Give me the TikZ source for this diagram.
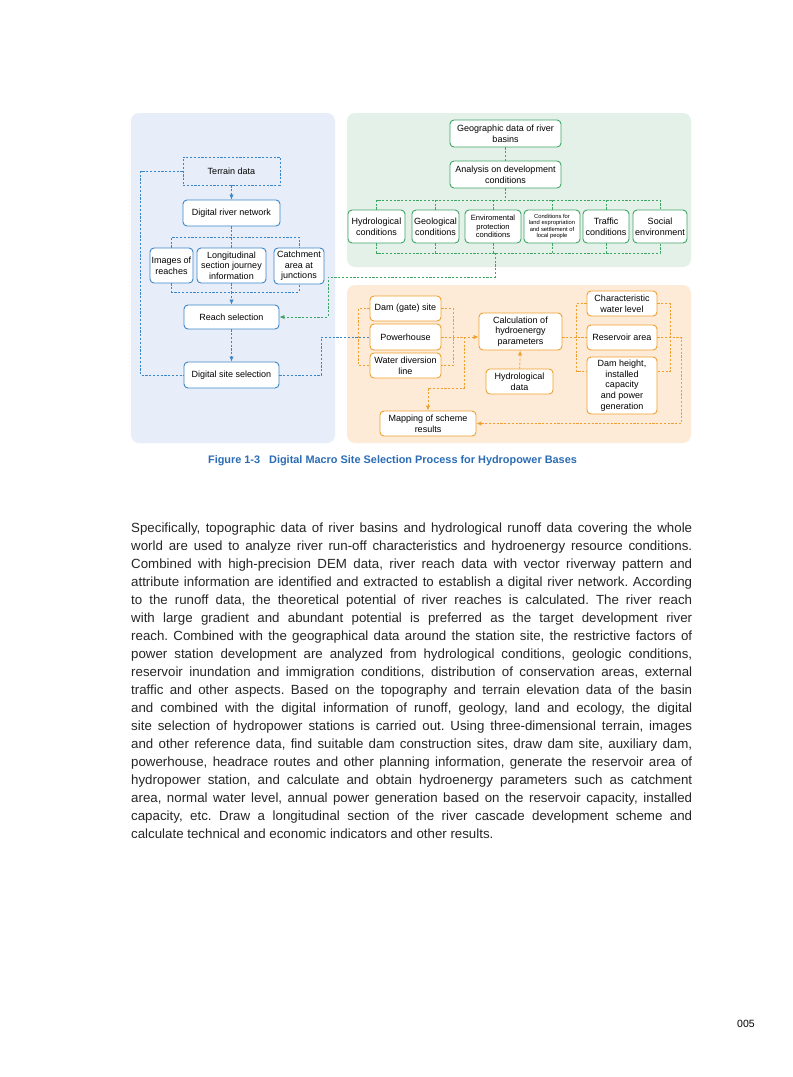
\documentclass[tikz,border=0pt]{standalone}
\usepackage{fontspec}
\setmainfont{Liberation Sans}
\usepackage{xcolor}
\usetikzlibrary{arrows.meta}

\definecolor{bluebg}{HTML}{E7EEF9}
\definecolor{greenbg}{HTML}{E4F1E9}
\definecolor{orangebg}{HTML}{FDEBD7}
\definecolor{blueln}{HTML}{3A86C8}
\definecolor{greenln}{HTML}{3FA564}
\definecolor{orangeln}{HTML}{F0A030}
\definecolor{captblue}{HTML}{2B6CB5}

\begin{document}
\begin{tikzpicture}[
  x=1pt, y=-1pt,
  font=\fontsize{9}{10.6}\selectfont,
  box/.style  = {fill=white, rounded corners=4pt, line width=0.9pt,
                 align=center, inner sep=1pt},
  bbox/.style = {box, draw=blueln},
  gbox/.style = {box, draw=greenln},
  obox/.style = {box, draw=orangeln},
  dsh/.style  = {line width=0.75pt, dash pattern=on 2.2pt off 1.6pt},
  bdas/.style = {dsh, blueln},
  gdas/.style = {dsh, greenln},
  odas/.style = {dsh, orangeln},
  arr/.style  = {-{Latex[length=5pt,width=4.4pt]}}
]
\useasboundingbox (0,0) rectangle (793,1077);
\fill[white] (0,0) rectangle (793,1077);

%% -- Panels --
\fill[bluebg, rounded corners=8pt]   (131,113) rectangle (335,443);
\fill[greenbg, rounded corners=8pt]  (347,113) rectangle (691,267);
\fill[orangebg, rounded corners=8pt] (347,285) rectangle (691,443);

%% -- Digital river network (blue) --
\node[draw=blueln, dsh, text=black, minimum width=97pt, minimum height=28pt] (terr) at (231.5,171) {Terrain data};
\node[bbox, minimum width=97pt, minimum height=26pt] (drn)  at (231.5,213) {Digital river network};
\node[bbox, minimum width=43pt, minimum height=35pt] (img)  at (171.5,265.5) {Images of\\reaches};
\node[bbox, minimum width=69pt, minimum height=35pt] (lsj)  at (231.5,265.5) {Longitudinal\\section journey\\information};
\node[bbox, minimum width=50pt, minimum height=36pt] (catch) at (299,266) {Catchment\\area at\\junctions};
\node[bbox, minimum width=95pt, minimum height=24pt] (reach) at (231.5,317) {Reach selection};
\node[bbox, minimum width=95pt, minimum height=26pt] (site)  at (231.5,375) {Digital site selection};
\coordinate (bt) at (231.5,237);
\coordinate (bb) at (231.5,292);

\draw[bdas,arr] (terr) -- (drn);
\draw[bdas] (drn) -- (bt);
\draw[bdas] (img.north) -- (img.north |- bt) -- (catch.north |- bt) -- (catch.north);
\draw[bdas] (lsj.north) -- (bt);
\draw[bdas] (img.south) -- (img.south |- bb) -- (catch.south |- bb) -- (catch.south);
\draw[bdas] (lsj.south) -- (bb);
\draw[bdas,arr] (bb) -- (reach);
\draw[bdas,arr] (reach) -- (site);
\draw[bdas] (terr.west) -- ++(-42,0) |- (site.west);

%% -- Development conditions (green) --
\node[gbox, minimum width=111pt, minimum height=27pt] (geo) at (505.5,133.5) {Geographic data of river\\basins};
\node[gbox, minimum width=111pt, minimum height=27pt] (ana) at (505.5,174.5) {Analysis on development\\conditions};
\node[gbox, minimum width=57pt, minimum height=33pt] (hyc)  at (376.5,226.5) {Hydrological\\conditions};
\node[gbox, minimum width=47pt, minimum height=33pt] (gec)  at (435.5,226.5) {Geological\\conditions};
\node[gbox, minimum width=56pt, minimum height=33pt, font=\fontsize{7.6}{8.6}\selectfont] (env) at (493,226.5) {Enviromental\\protection\\conditions};
\node[gbox, minimum width=56pt, minimum height=33pt, font=\fontsize{5.8}{6.4}\selectfont] (land) at (552,226.5) {Conditions for\\land expropriation\\and settlement of\\local people};
\node[gbox, minimum width=46pt, minimum height=33pt] (trc)  at (606,226.5) {Traffic\\conditions};
\node[gbox, minimum width=54pt, minimum height=33pt] (soc)  at (660,226.5) {Social\\environment};
\coordinate (gt) at (505.5,200);
\coordinate (gb) at (495,253);

\draw[gdas] (geo) -- (ana);
\draw[gdas] (ana) -- (gt);
\draw[gdas] (hyc.north) -- (hyc.north |- gt) -- (soc.north |- gt) -- (soc.north);
\foreach \nd in {gec,env,land,trc}{
  \draw[gdas] (\nd.north) -- (\nd.north |- gt);}
\draw[gdas] (hyc.south) -- (hyc.south |- gb) -- (soc.south |- gb) -- (soc.south);
\foreach \nd in {gec,env,land,trc}{
  \draw[gdas] (\nd.south) -- (\nd.south |- gb);}
\draw[gdas,arr] (gb) -- (495,277) -- (328,277) |- (reach.east);

%% -- Scheme calculation (orange) --
\node[obox, minimum width=71pt, minimum height=25pt] (dam) at (405.5,308.5) {Dam (gate) site};
\node[obox, minimum width=71pt, minimum height=26pt] (ph)  at (405.5,337) {Powerhouse};
\node[obox, minimum width=71pt, minimum height=25pt] (wdl) at (405.5,365.5) {Water diversion\\line};
\node[obox, minimum width=83pt, minimum height=37pt] (calc) at (520.5,331.5) {Calculation of\\hydroenergy\\parameters};
\node[obox, minimum width=67pt, minimum height=25pt] (hyd) at (519.5,381.5) {Hydrological\\data};
\node[obox, minimum width=70pt, minimum height=25pt] (cwl) at (622,303.5) {Characteristic\\water level};
\node[obox, minimum width=70pt, minimum height=25pt] (res) at (622,337.5) {Reservoir area};
\node[obox, minimum width=70pt, minimum height=57pt] (dhc) at (622,385.5) {Dam height,\\installed\\capacity\\and power\\generation};
\node[obox, minimum width=96pt, minimum height=25pt] (map) at (428,423.5) {Mapping of scheme\\results};
\coordinate (ojn) at (464,337);

\draw[bdas] (site.east) -- ++(42,0) |- (ph.west);
\draw[odas] (dam.west) -- ++(-11,0) |- (wdl.west);
\draw[odas] (dam.east) -- ++(12,0) |- (wdl.east);
\draw[odas,arr] (ph.east) -- (ph.east -| calc.west);
\draw[odas,arr] (ojn) -- (464,388) -| (map.north);
\draw[odas,arr] (hyd) -- (calc);
\draw[odas] (cwl.west) -- ++(-10,0) -- ++(0,68) -- ++(10,0);
\draw[odas] (cwl.east) -- ++(13,0) -- ++(0,68) -- ++(-13,0);
\draw[odas] (calc.east |- res.west) -- (res.west);
\draw[odas,arr] (res.east) -- ++(24,0) |- (map.east);

%% -- Caption, body text, page number --
\node[font=\fontsize{10.9}{12}\selectfont\bfseries, text=captblue] (capt) at (392.5,461)
  {Figure 1-3\hspace{9pt}Digital Macro Site Selection Process for Hydropower Bases};
\node[anchor=north west, inner sep=0, text width=561pt, align=justify,
      font=\fontsize{13.3}{18}\selectfont, text=black!85] (body) at (131,523)
  {\frenchspacing\hyphenpenalty=10000 \exhyphenpenalty=10000 \tolerance=9999
   Specifically, topographic data of river basins and hydrological runoff data covering the whole\linebreak
   world are used to analyze river run-off characteristics and hydroenergy resource conditions.\linebreak
   Combined with high-precision DEM data, river reach data with vector riverway pattern and\linebreak
   attribute information are identified and extracted to establish a digital river network. According\linebreak
   to the runoff data, the theoretical potential of river reaches is calculated. The river reach\linebreak
   with large gradient and abundant potential is preferred as the target development river\linebreak
   reach. Combined with the geographical data around the station site, the restrictive factors of\linebreak
   power station development are analyzed from hydrological conditions, geologic conditions,\linebreak
   reservoir inundation and immigration conditions, distribution of conservation areas, external\linebreak
   traffic and other aspects. Based on the topography and terrain elevation data of the basin\linebreak
   and combined with the digital information of runoff, geology, land and ecology, the digital\linebreak
   site selection of hydropower stations is carried out. Using three-dimensional terrain, images\linebreak
   and other reference data, find suitable dam construction sites, draw dam site, auxiliary dam,\linebreak
   powerhouse, headrace routes and other planning information, generate the reservoir area of\linebreak
   hydropower station, and calculate and obtain hydroenergy parameters such as catchment\linebreak
   area, normal water level, annual power generation based on the reservoir capacity, installed\linebreak
   capacity, etc. Draw a longitudinal section of the river cascade development scheme and\linebreak
   calculate technical and economic indicators and other results.};
\node[font=\fontsize{10.5}{12}\selectfont] (pnum) at (746,1024) {005};
\end{tikzpicture}
\end{document}
